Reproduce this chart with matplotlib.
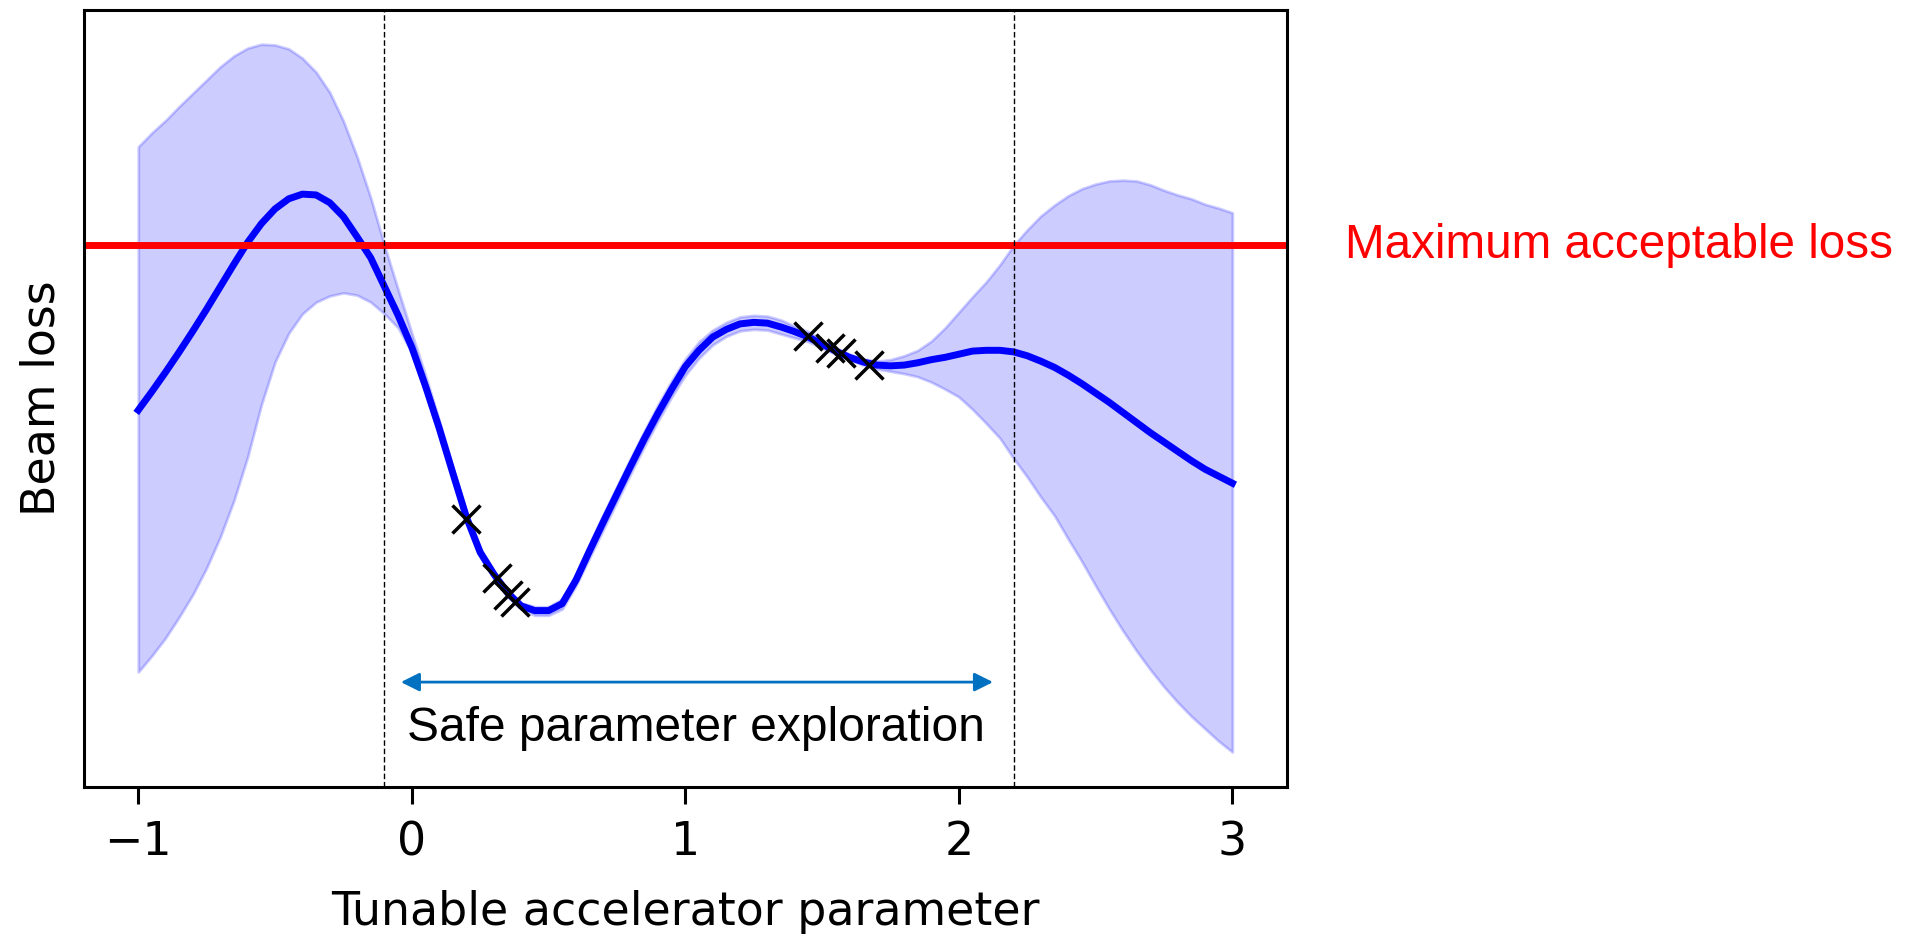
import numpy as np
import matplotlib.pyplot as plt
from matplotlib.patches import FancyArrowPatch

# values (loss axis has no scale, 0..10 spans the box)
param = [-1.00, -0.95, -0.90, -0.85, -0.80, -0.75, -0.70, -0.65, -0.60, -0.55,
         -0.50, -0.45, -0.40, -0.35, -0.30, -0.25, -0.20, -0.15, -0.10, -0.05,
         0.00, 0.05, 0.10, 0.15, 0.20, 0.25, 0.30, 0.35, 0.40, 0.45,
         0.50, 0.55, 0.60, 0.65, 0.70, 0.75, 0.80, 0.85, 0.90, 0.95,
         1.00, 1.05, 1.10, 1.15, 1.20, 1.25, 1.30, 1.35, 1.40, 1.45,
         1.50, 1.55, 1.60, 1.65, 1.70, 1.75, 1.80, 1.85, 1.90, 1.95,
         2.00, 2.05, 2.10, 2.15, 2.20, 2.25, 2.30, 2.35, 2.40, 2.45,
         2.50, 2.55, 2.60, 2.65, 2.70, 2.75, 2.80, 2.85, 2.90, 2.95, 3.00]

mean_loss = [4.85, 5.09, 5.34, 5.60, 5.87, 6.15, 6.44, 6.73, 7.01, 7.25,
             7.44, 7.57, 7.63, 7.62, 7.52, 7.34, 7.08, 6.81, 6.44, 6.07,
             5.66, 5.16, 4.62, 4.04, 3.47, 3.02, 2.74, 2.50, 2.33, 2.27,
             2.27, 2.36, 2.66, 3.04, 3.41, 3.77, 4.13, 4.48, 4.81, 5.12,
             5.41, 5.62, 5.79, 5.89, 5.96, 5.98, 5.97, 5.92, 5.86, 5.79,
             5.70, 5.61, 5.53, 5.47, 5.43, 5.42, 5.43, 5.46, 5.50, 5.53,
             5.57, 5.61, 5.62, 5.62, 5.60, 5.55, 5.48, 5.40, 5.30, 5.19,
             5.07, 4.95, 4.82, 4.69, 4.56, 4.44, 4.32, 4.20, 4.09, 4.00, 3.91]

upper_loss = [8.24, 8.42, 8.58, 8.76, 8.93, 9.10, 9.27, 9.41, 9.51, 9.56,
              9.55, 9.50, 9.38, 9.20, 8.94, 8.57, 8.11, 7.58, 6.97, 6.40,
              5.84, 5.30, 4.72, 4.12, 3.53, 3.08, 2.78, 2.54, 2.37, 2.32,
              2.32, 2.42, 2.74, 3.13, 3.51, 3.87, 4.23, 4.58, 4.92, 5.23,
              5.51, 5.73, 5.88, 5.98, 6.05, 6.07, 6.06, 6.01, 5.93, 5.86,
              5.75, 5.65, 5.57, 5.51, 5.48, 5.50, 5.55, 5.62, 5.74, 5.91,
              6.11, 6.31, 6.50, 6.72, 6.97, 7.17, 7.35, 7.49, 7.61, 7.70,
              7.76, 7.80, 7.81, 7.80, 7.75, 7.68, 7.62, 7.57, 7.50, 7.45, 7.39]

lower_loss = [1.48, 1.69, 1.92, 2.19, 2.48, 2.82, 3.22, 3.69, 4.25, 4.92,
              5.47, 5.84, 6.09, 6.24, 6.32, 6.36, 6.33, 6.24, 6.09, 5.91,
              5.59, 5.08, 4.54, 3.98, 3.42, 2.97, 2.69, 2.45, 2.29, 2.21,
              2.21, 2.29, 2.59, 2.95, 3.31, 3.67, 4.03, 4.38, 4.71, 5.02,
              5.30, 5.52, 5.69, 5.80, 5.87, 5.89, 5.88, 5.83, 5.78, 5.73,
              5.65, 5.57, 5.50, 5.43, 5.38, 5.35, 5.32, 5.28, 5.21, 5.12,
              5.02, 4.86, 4.68, 4.49, 4.23, 3.99, 3.73, 3.49, 3.19, 2.90,
              2.59, 2.29, 2.01, 1.75, 1.51, 1.29, 1.09, 0.91, 0.75, 0.59, 0.45]

# observed points
obs_x = [0.20, 0.31, 0.353, 0.377, 1.45, 1.53, 1.57, 1.67]
obs_y = [3.45, 2.69, 2.47, 2.38, 5.80, 5.65, 5.58, 5.43]

max_loss = 6.97
safe_bounds = [-0.1, 2.2]
arrow_span = [-0.05, 2.135]
xticks = [-1, 0, 1, 2, 3]

fig = plt.figure(figsize=(19.21, 9.34), dpi=100)
ax = fig.add_subplot(111)
fig.subplots_adjust(left=0.0435, right=0.670, top=0.9893, bottom=0.1574)

ax.fill_between(param, lower_loss, upper_loss, color="blue", alpha=0.2, lw=2)
ax.plot(param, mean_loss, color="blue", lw=5)
ax.plot(obs_x, obs_y, "x", color="black", ms=20, mew=2.5)
ax.axhline(max_loss, color="red", lw=5)
for b in safe_bounds:
    ax.axvline(b, color="black", lw=1, linestyle=(0, (4, 2)))

arrow = FancyArrowPatch((arrow_span[0], 1.35), (arrow_span[1], 1.35),
                        arrowstyle="<|-|>", mutation_scale=28,
                        color="#0070C0", lw=2)
ax.add_patch(arrow)
ax.text(1.04, 0.75, "Safe parameter exploration", ha="center", va="center",
        fontsize=34.5, family="Liberation Sans")
ax.text(1.048, max_loss, "Maximum acceptable loss", color="red",
        ha="left", va="center", fontsize=34.3, family="Liberation Sans",
        transform=ax.get_yaxis_transform(), clip_on=False)

ax.set_xlim(-1.2, 3.2)
ax.set_ylim(0, 10)
ax.set_xticks(xticks)
ax.set_yticks([])
ax.tick_params(axis="x", labelsize=33, length=12, width=2.2, pad=12)
for s in ax.spines.values():
    s.set_linewidth(2.2)
ax.set_xlabel("Tunable accelerator parameter", fontsize=33, labelpad=18)
ax.set_ylabel("Beam loss", fontsize=33, labelpad=14)

fig.savefig("out.png", dpi=100)
